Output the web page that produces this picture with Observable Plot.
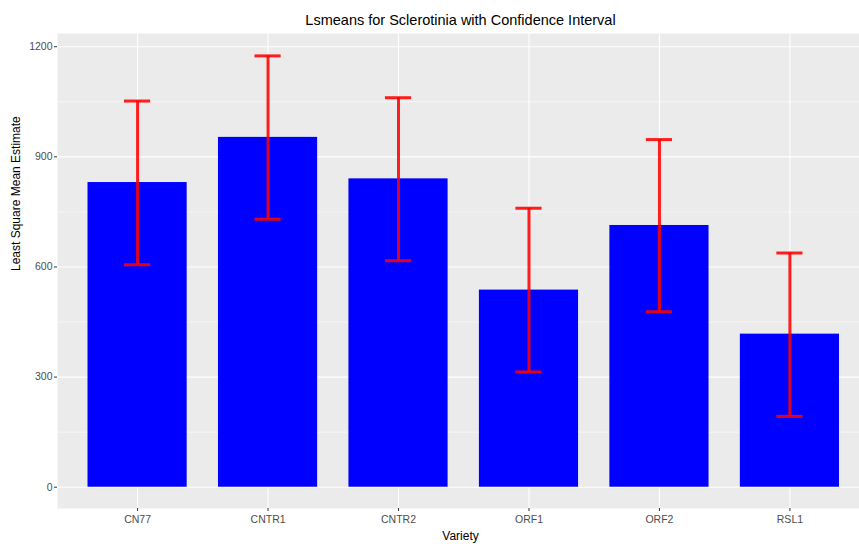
<!DOCTYPE html>
<html>
<head>
<meta charset="utf-8">
<script src="https://cdn.jsdelivr.net/npm/d3@7"></script>
<script src="https://cdn.jsdelivr.net/npm/@observablehq/plot@0.6"></script>
<style>
  html, body { margin: 0; padding: 0; background: #ffffff; }
  #chart svg { display: block; }
</style>
</head>
<body>
<div id="chart"></div>
<script>
const varieties = ["CN77", "CNTR1", "CNTR2", "ORF1", "ORF2", "RSL1"];
const estimates = [830, 953, 840, 537, 713, 417];
const lowerCL = [606, 730, 617, 314, 478, 193];
const upperCL = [1052, 1175, 1061, 760, 947, 638];
const yMajorTicks = [0, 300, 600, 900, 1200];
const yMinorTicks = [150, 450, 750, 1050];
const title = "Lsmeans for Sclerotinia with Confidence Interval";
const xTitle = "Variety";
const yTitle = "Least Square Mean Estimate";

const data = varieties.map((v, i) => ({
  variety: v, est: estimates[i], lo: lowerCL[i], hi: upperCL[i]
}));

const font = "'Liberation Sans', Arial, Helvetica, sans-serif";

const chart = Plot.plot({
  width: 859,
  height: 544,
  marginLeft: 57,
  marginRight: 0,
  marginTop: 33,
  marginBottom: 36,
  style: { fontFamily: font, background: "#ffffff", overflow: "visible" },
  x: { type: "band", domain: varieties, range: [57.5, 869], round: false, paddingInner: 0.24, paddingOuter: 0.23, axis: null },
  y: { domain: [-58, 1236], axis: null },
  marks: [
    Plot.frame({ fill: "#EBEBEB", stroke: null }),
    Plot.ruleY(yMinorTicks, { stroke: "#ffffff", strokeWidth: 0.55 }),
    Plot.ruleY(yMajorTicks, { stroke: "#ffffff", strokeWidth: 1.1 }),
    Plot.ruleX(varieties, { x: d => d, stroke: "#ffffff", strokeWidth: 1.1 }),
    Plot.barY(data, { x: "variety", y: "est", fill: "#0000FF" }),
    Plot.ruleX(data, { x: "variety", y1: "lo", y2: "hi", stroke: "red", strokeOpacity: 0.88, strokeWidth: 3 }),
    Plot.tickY(data, { x: "variety", y: "lo", stroke: "red", strokeOpacity: 0.88, strokeWidth: 3, insetLeft: 36.5, insetRight: 36.5 }),
    Plot.tickY(data, { x: "variety", y: "hi", stroke: "red", strokeOpacity: 0.88, strokeWidth: 3, insetLeft: 36.5, insetRight: 36.5 }),
    Plot.axisY(yMajorTicks, { tickSize: 3, tickPadding: 2, tickFormat: d3.format("d"), stroke: "#333333", fill: "#4D4D4D", fontSize: 10.5, label: null }),
    Plot.axisX(varieties, { tickSize: 3, tickPadding: 4, stroke: "#333333", fill: "#4D4D4D", fontSize: 10.5, label: null }),
    Plot.text([title], { frameAnchor: "top", lineAnchor: "bottom", dy: -9, dx: 2, fontSize: 14.5, fill: "#000000" }),
    Plot.text([xTitle], { frameAnchor: "bottom", lineAnchor: "middle", dy: 28, dx: 2, fontSize: 12, fill: "#000000" }),
    Plot.text([yTitle], { frameAnchor: "left", lineAnchor: "middle", rotate: -90, dx: -41, fontSize: 12, fill: "#000000" })
  ]
});

document.getElementById("chart").append(chart);
</script>
</body>
</html>
